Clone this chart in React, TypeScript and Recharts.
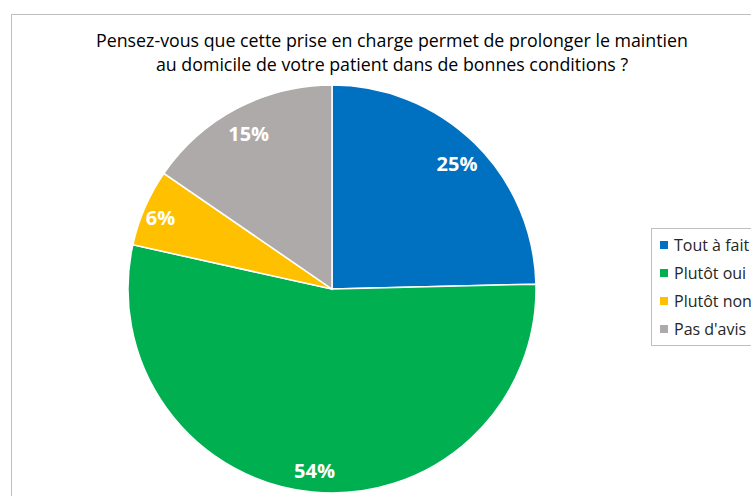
import React from 'react';
import { PieChart, Pie, Cell, Legend } from 'recharts';

const categories = ['Tout à fait', 'Plutôt oui', 'Plutôt non', "Pas d'avis"];
const values = [24.6, 53.8, 6.1, 15.4];
const colors = ['#0070C0', '#00B050', '#FFC000', '#AEAAAA'];
const titleLines = [
  'Pensez-vous que cette prise en charge permet de prolonger le maintien',
  'au domicile de votre patient dans de bonnes conditions ?',
];

const data = categories.map((name, i) => ({ name, value: values[i] }));

const FONT = "'Open Sans', 'Noto Sans', sans-serif";
const RADIAN = Math.PI / 180;

const renderLabel = (props: any) => {
  const { cx, cy, midAngle, outerRadius, percent } = props;
  const r = percent < 0.1 ? outerRadius - 17 : outerRadius - 25;
  const x = cx + r * Math.cos(-midAngle * RADIAN);
  const y = cy + r * Math.sin(-midAngle * RADIAN) + 3;
  return (
    <text
      x={x}
      y={y}
      fill="#FFFFFF"
      fontWeight="bold"
      fontSize={20}
      fontFamily={FONT}
      textAnchor="middle"
      dominantBaseline="central"
    >
      {Math.round(percent * 100)}%
    </text>
  );
};

const LegendContent = () => (
  <div
    style={{
      border: '1px solid #BFBFBF',
      background: '#fff',
      width: 150,
      height: 118,
      boxSizing: 'border-box',
      paddingTop: 2,
      fontFamily: FONT,
      fontSize: 16,
      color: '#262626',
    }}
  >
    {categories.map((c, i) => (
      <div key={c} style={{ display: 'flex', alignItems: 'center', height: 28, whiteSpace: 'nowrap' }}>
        <span style={{ display: 'inline-block', width: 8, height: 8, background: colors[i], marginLeft: 8, marginRight: 6 }} />
        <span>{c}</span>
      </div>
    ))}
  </div>
);

export default function App() {
  return (
    <div style={{ position: 'absolute', left: 0, top: 0, width: 751, height: 496, overflow: 'hidden', background: '#fff' }}>
      <div
        style={{
          position: 'absolute',
          left: 11,
          top: 14,
          width: 800,
          height: 600,
          border: '1px solid #BFBFBF',
        }}
      />
      <div style={{ position: 'absolute', left: 0, top: 0 }}>
        <PieChart width={751} height={496} margin={{ top: 0, right: 0, bottom: 0, left: 0 }}>
          <text x={392} y={47} textAnchor="middle" fontFamily={FONT} fontSize={17.8} fill="#000">
            {titleLines[0]}
          </text>
          <text x={392} y={71} textAnchor="middle" fontFamily={FONT} fontSize={17.8} fill="#000">
            {titleLines[1]}
          </text>
          <Pie
            data={data}
            dataKey="value"
            nameKey="name"
            cx={332}
            cy={289}
            outerRadius={204}
            startAngle={90}
            endAngle={-270}
            stroke="#FFFFFF"
            strokeWidth={1.5}
            label={renderLabel}
            labelLine={false}
            isAnimationActive={false}
          >
            {data.map((d, i) => (
              <Cell key={d.name} fill={colors[i]} />
            ))}
          </Pie>
          <Legend
            content={<LegendContent />}
            wrapperStyle={{ position: 'absolute', left: 651, top: 228, width: 150, height: 118 }}
          />
        </PieChart>
      </div>
    </div>
  );
}
